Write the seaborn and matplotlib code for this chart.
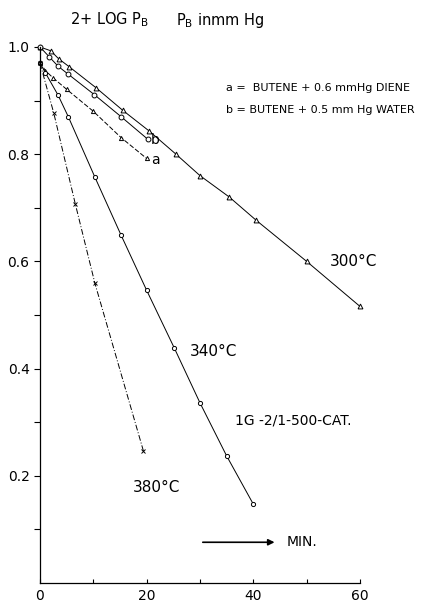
import numpy as np
import pandas as pd
import seaborn as sns
import matplotlib
matplotlib.use('Agg')
import matplotlib.pyplot as plt

# values (x = minutes, y = 2 + log PB)
t_300 = [0, 2, 3.5, 5.5, 10.5, 15.5, 20.5, 25.5, 30, 35.5, 40.5, 50, 60]
y_300 = [1.0, 0.993, 0.978, 0.963, 0.924, 0.882, 0.843, 0.80, 0.76, 0.72, 0.677, 0.60, 0.516]

t_b = [0, 1.7, 3.4, 5.2, 10.2, 15.2, 20.2]
y_b = [1.0, 0.982, 0.964, 0.95, 0.911, 0.870, 0.828]

t_a = [0, 1, 2.5, 5, 10, 15.2, 20]
y_a = [0.972, 0.956, 0.942, 0.921, 0.88, 0.831, 0.792]

t_340 = [0, 1, 3.4, 5.3, 10.3, 15.2, 20, 25.2, 30, 35, 40]
y_340 = [0.97, 0.952, 0.91, 0.87, 0.757, 0.649, 0.546, 0.438, 0.336, 0.237, 0.147]

t_380 = [0, 2.6, 6.6, 10.3, 19.4]
y_380 = [0.97, 0.876, 0.708, 0.559, 0.246]

x_ticks = [0, 10, 20, 30, 40, 50, 60]
x_tick_labels = ['0', '', '20', '', '40', '', '60']
y_ticks = [0.2, 0.4, 0.6, 0.8, 1.0]
y_tick_labels = ['0.2', '0.4', '0.6', '0.8', '1.0']
y_minor = [0.1, 0.3, 0.5, 0.7, 0.9]

sns.set_style('ticks')
plt.rcParams['font.family'] = ['DejaVu Sans']
plt.rcParams.update({'text.color': 'black', 'axes.edgecolor': 'black',
                     'xtick.color': 'black', 'ytick.color': 'black',
                     'axes.labelcolor': 'black'})

fig = plt.figure(figsize=(4.37, 6.06), dpi=100)
ax = fig.add_axes([40 / 437, 23 / 606, 320 / 437, 536 / 606])

# one entry per curve: data, marker, marker size, line style
series = [
    (t_300, y_300, '^', 3.5, '-'),
    (t_b, y_b, 'o', 3.5, '-'),
    (t_a, y_a, '^', 3.0, (0, (5, 2))),
    (t_340, y_340, 'o', 3.0, '-'),
    (t_380, y_380, 'x', 3.5, (0, (6, 2, 1, 2))),
]
for t, y, m, ms, ls in series:
    sns.lineplot(x=t, y=y, ax=ax, color='black', linewidth=0.7, linestyle=ls,
                 marker=m, markersize=ms, markerfacecolor='white',
                 markeredgecolor='black', markeredgewidth=0.7, clip_on=False)

ax.set_xlim(0, 60)
ax.set_ylim(0, 1.0)
ax.set_xticks(x_ticks)
ax.set_xticklabels(x_tick_labels, fontsize=10)
ax.set_yticks(y_ticks)
ax.set_yticklabels(y_tick_labels, fontsize=10)
ax.set_yticks(y_minor, minor=True)
ax.tick_params(axis='y', which='both', direction='out', length=4, width=0.8)
ax.tick_params(axis='x', which='both', direction='in', length=3, width=0.8, pad=4)
sns.despine(ax=ax)
for s in ['left', 'bottom']:
    ax.spines[s].set_linewidth(0.9)

# header texts (figure pixel coordinates)
def px(xp, yp):
    return xp / 437, 1 - yp / 606

fig.text(*px(70, 20), r'2+ LOG P$_\mathregular{B}$', fontsize=10.5, va='center')
fig.text(*px(176, 20), r'P$_\mathregular{B}$ inmm Hg', fontsize=10.5, va='center')
fig.text(*px(226, 88), 'a =  BUTENE + 0.6 mmHg DIENE', fontsize=8, va='center')
fig.text(*px(226, 110), 'b = BUTENE + 0.5 mm Hg WATER', fontsize=8, va='center')

# curve labels
ax.text(20.8, 0.826, 'b', fontsize=10, va='center')
ax.text(20.8, 0.79, 'a', fontsize=10, va='center')
fig.text(*px(330, 262), '300°C', fontsize=11, va='center')
fig.text(*px(190, 352), '340°C', fontsize=11, va='center')
fig.text(*px(133, 488), '380°C', fontsize=11, va='center')
fig.text(*px(235, 420), '1G -2/1-500-CAT.', fontsize=10, va='center')

# time arrow
ax.annotate('', xy=(44.5, 0.076), xytext=(30, 0.076),
            arrowprops=dict(arrowstyle='-|>', color='black', lw=1.2, mutation_scale=9))
ax.text(46.2, 0.076, 'MIN.', fontsize=10, va='center')

fig.savefig('out.png', dpi=100)
